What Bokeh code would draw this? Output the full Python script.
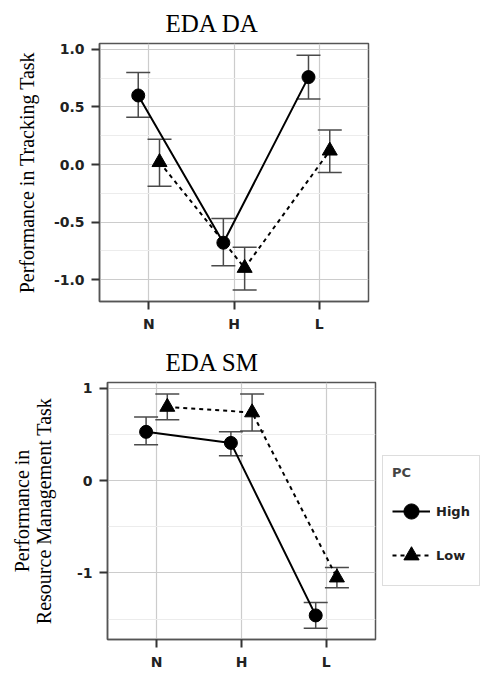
from bokeh.plotting import figure
from bokeh.models import (FactorRange, Range1d, FixedTicker, Whisker, TeeHead,
                          ColumnDataSource, NumeralTickFormatter, Legend, LegendItem)
from bokeh.transform import dodge
from bokeh.layouts import row
from bokeh.embed import file_html
from bokeh.resources import INLINE

# ---------------- data ----------------
conditions = ["N", "H", "L"]
groups = ["High", "Low"]

# EDA DA : performance in tracking task
da_high = [0.60, -0.68, 0.76]
da_high_lo = [0.41, -0.88, 0.57]
da_high_hi = [0.80, -0.47, 0.95]
da_low = [0.02, -0.90, 0.12]
da_low_lo = [-0.19, -1.09, -0.07]
da_low_hi = [0.22, -0.72, 0.30]
da_yticks = [-1.0, -0.5, 0.0, 0.5, 1.0]
da_yminor = [-0.75, -0.25, 0.25, 0.75]

# EDA SM : performance in resource management task
sm_high = [0.53, 0.41, -1.46]
sm_high_lo = [0.39, 0.27, -1.60]
sm_high_hi = [0.69, 0.53, -1.32]
sm_low = [0.80, 0.74, -1.05]
sm_low_lo = [0.66, 0.54, -1.16]
sm_low_hi = [0.94, 0.94, -0.94]
sm_yticks = [-1, 0, 1]
sm_yminor = [-1.5, -0.5, 0.5]

SANS = "DejaVu Sans"
SERIF = "Liberation Serif"
DODGE = 0.125
HIGH_STYLE = dict(line_color="black", line_width=2)
LOW_STYLE = dict(line_color="black", line_width=2, line_dash="4 4")


def make_panel(title, ylabel, vals, y_range, yticks, yminor, fmt,
               width, height, min_left, min_top, min_bottom, min_right,
               title_offset, title_standoff, label_standoff):
    p = figure(x_range=FactorRange(*conditions, range_padding=0.08,
                                   range_padding_units="absolute"),
               y_range=Range1d(*y_range),
               width=width, height=height,
               min_border_left=min_left, min_border_top=min_top,
               min_border_bottom=min_bottom, min_border_right=min_right,
               output_backend="svg", toolbar_location=None)
    p.title.text = title
    p.title.text_font = SERIF
    p.title.text_font_size = "25px"
    p.title.text_font_style = "normal"
    p.title.align = "left"
    p.title.offset = title_offset
    p.title.standoff = title_standoff
    p.title.text_color = "black"

    p.background_fill_color = "white"
    p.outline_line_color = "#555555"
    p.outline_line_width = 1.5

    # grids
    p.xgrid.grid_line_color = "#cccccc"
    p.xgrid.grid_line_width = 1.2
    p.ygrid.grid_line_color = "#cccccc"
    p.ygrid.grid_line_width = 1.2
    p.ygrid.minor_grid_line_color = "#ececec"
    p.ygrid.minor_grid_line_width = 1

    # axes
    p.yaxis.ticker = FixedTicker(ticks=yticks, minor_ticks=yminor)
    p.yaxis.formatter = NumeralTickFormatter(format=fmt)
    for ax in (p.xaxis[0], p.yaxis[0]):
        ax.axis_line_color = "#555555"
        ax.axis_line_width = 1.5
        ax.major_tick_line_color = "#333333"
        ax.major_tick_line_width = 2
        ax.major_tick_out = 8
        ax.major_tick_in = 0
        ax.minor_tick_out = 0
        ax.minor_tick_in = 0
        ax.major_label_text_font = SANS
        ax.major_label_text_font_style = "bold"
        ax.major_label_text_font_size = "14px"
        ax.major_label_text_color = "#222222"
    p.yaxis.major_label_standoff = 7
    p.xaxis.major_label_standoff = 6
    p.yaxis.axis_label = ylabel
    p.yaxis.axis_label_text_font = SERIF
    p.yaxis.axis_label_text_font_size = "20px"
    p.yaxis.axis_label_text_font_style = "normal"
    p.yaxis.axis_label_text_color = "black"
    p.yaxis.axis_label_text_line_height = 1.0
    p.yaxis.axis_label_standoff = label_standoff

    high, hlo, hhi, low, llo, lhi = vals
    src_h = ColumnDataSource(dict(x=conditions, y=high, lo=hlo, hi=hhi))
    src_l = ColumnDataSource(dict(x=conditions, y=low, lo=llo, hi=lhi))

    xh = dodge("x", -DODGE, range=p.x_range)
    xl = dodge("x", DODGE, range=p.x_range)

    p.line(x=xh, y="y", source=src_h, **HIGH_STYLE)
    p.line(x=xl, y="y", source=src_l, **LOW_STYLE)

    for src, xx in ((src_h, xh), (src_l, xl)):
        w = Whisker(base=xx, upper="hi", lower="lo", source=src,
                    line_color="#4a4a4a", line_width=1.5,
                    upper_head=TeeHead(size=24, line_color="#4a4a4a", line_width=1.5),
                    lower_head=TeeHead(size=24, line_color="#4a4a4a", line_width=1.5))
        p.add_layout(w)

    p.scatter(x=xh, y="y", source=src_h, marker="circle", size=13,
              fill_color="black", line_color="black")
    p.scatter(x=xl, y="y", source=src_l, marker="triangle", size=15,
              fill_color="black", line_color="black")
    return p


top = make_panel("EDA DA", "Performance in Tracking Task",
                 (da_high, da_high_lo, da_high_hi, da_low, da_low_lo, da_low_hi),
                 (-1.191, 1.052), da_yticks, da_yminor, "0.0",
                 width=480, height=338, min_left=99, min_top=43, min_bottom=37,
                 min_right=112, title_offset=66, title_standoff=13, label_standoff=13)

bottom = make_panel("EDA SM", "Performance in\nResource Management Task",
                    (sm_high, sm_high_lo, sm_high_hi, sm_low, sm_low_lo, sm_low_hi),
                    (-1.721, 1.065), sm_yticks, sm_yminor, "0",
                    width=377, height=334, min_left=107, min_top=44, min_bottom=32,
                    min_right=2, title_offset=58, title_standoff=14, label_standoff=19)

# ---- legend panel (a figure holding only the legend) ----
lf = figure(x_range=FactorRange(*conditions), y_range=Range1d(10, 11),
            width=103, height=334, min_border_left=0, min_border_right=0,
            min_border_top=44, min_border_bottom=32,
            output_backend="svg", toolbar_location=None)
lf.axis.visible = False
lf.grid.visible = False
lf.outline_line_color = None
lf.background_fill_color = None
lf.border_fill_color = None
lh = lf.line(x=conditions, y=sm_high, **HIGH_STYLE)
mh = lf.scatter(x=conditions, y=sm_high, marker="circle", size=12,
                fill_color="black", line_color="black")
ll = lf.line(x=conditions, y=sm_low, **LOW_STYLE)
ml = lf.scatter(x=conditions, y=sm_low, marker="triangle", size=13,
                fill_color="black", line_color="black")
lg = Legend(items=[LegendItem(label=groups[0], renderers=[lh, mh]),
                   LegendItem(label=groups[1], renderers=[ll, ml])],
            title="PC", location=(5, 53))
lg.title_text_font = SANS
lg.title_text_font_style = "bold"
lg.title_text_font_size = "13px"
lg.title_standoff = 10
lg.label_text_font = SANS
lg.label_text_font_style = "bold"
lg.label_text_font_size = "13px"
lg.label_text_color = "#222222"
lg.border_line_color = "#bbbbbb"
lg.border_line_width = 1
lg.background_fill_color = "white"
lg.padding = 9
lg.margin = 0
lg.glyph_width = 38
lg.glyph_height = 42
lg.spacing = 2
lg.label_standoff = 6
lf.add_layout(lg, "center")

open("out.html", "w").write(file_html([top, row(bottom, lf)], INLINE))
